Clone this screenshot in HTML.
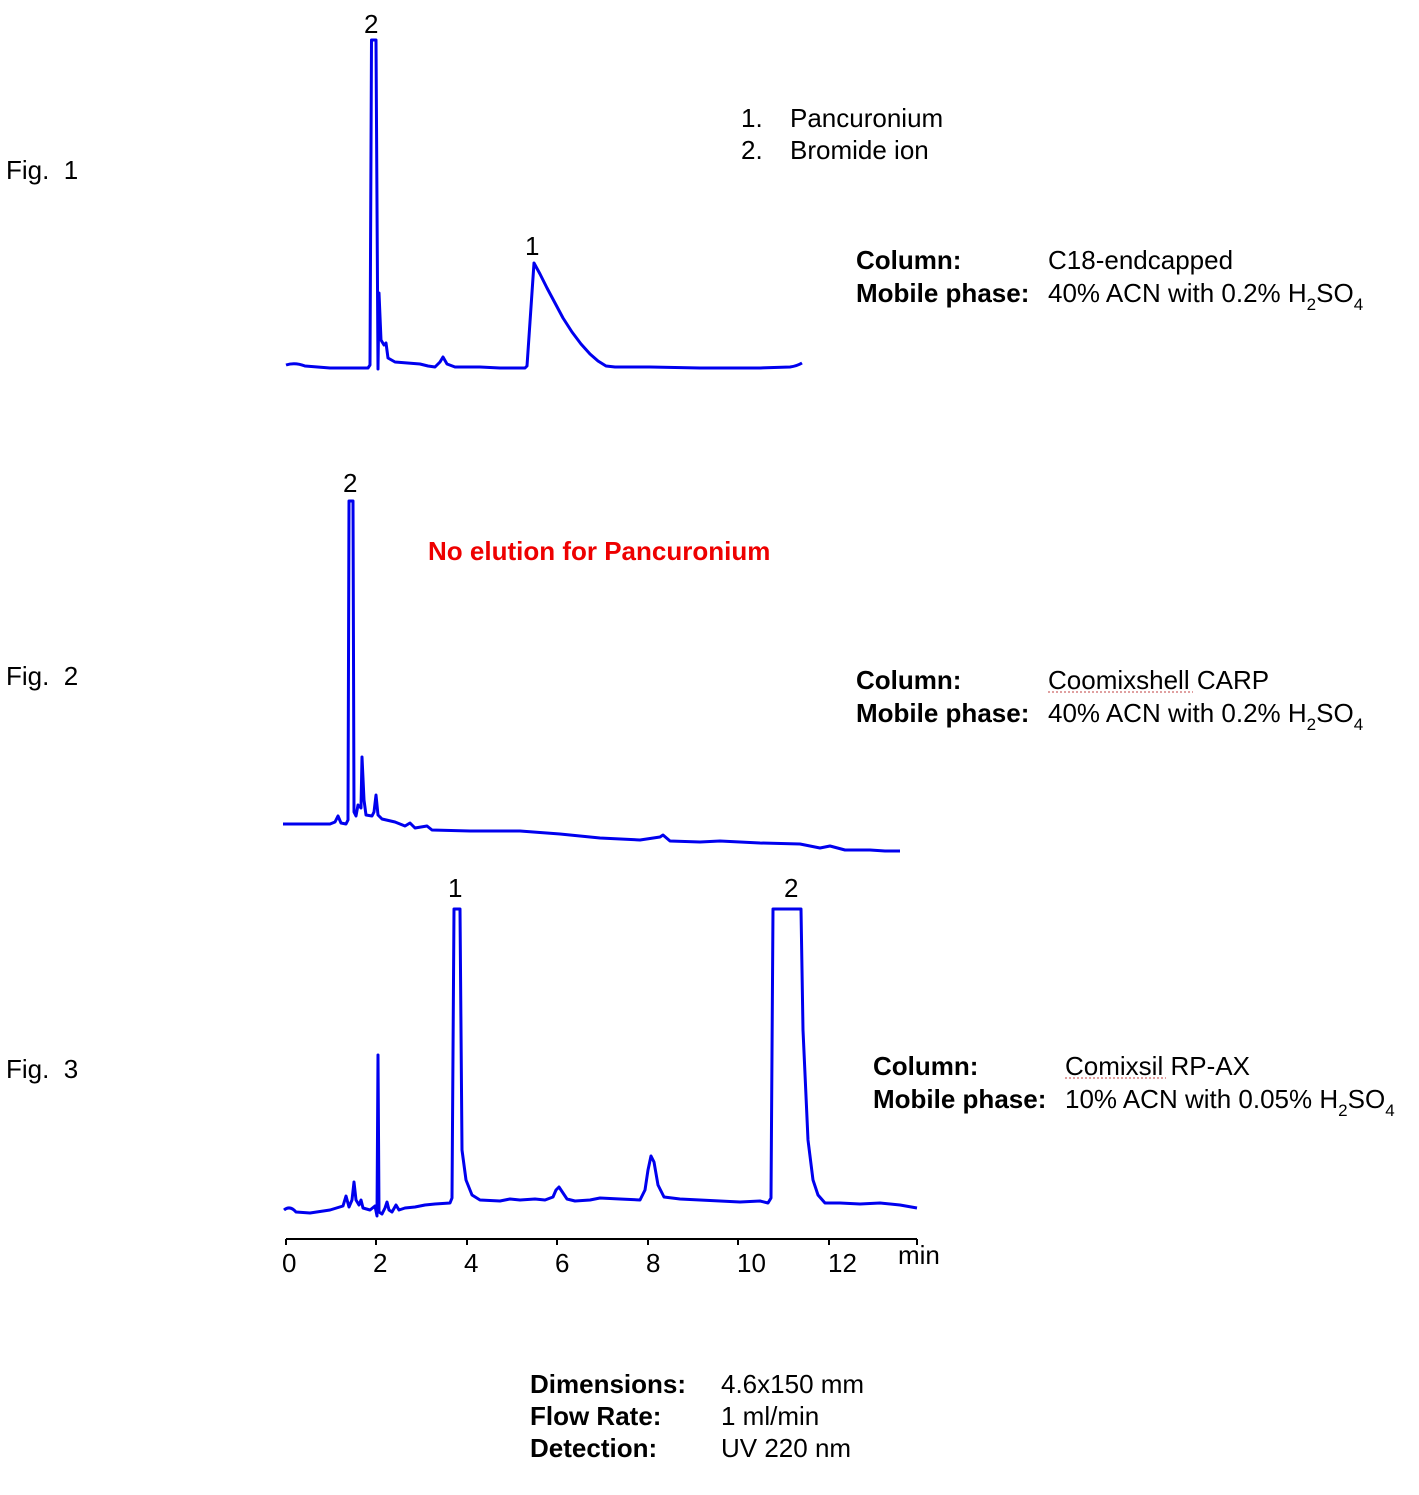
<!DOCTYPE html>
<html><head><meta charset="utf-8"><style>
html,body{margin:0;padding:0;background:#fff;}
svg{display:block;font-family:"Liberation Sans",Arial,sans-serif;}
</style></head><body>
<svg width="1419" height="1495" viewBox="0 0 1419 1495" xmlns="http://www.w3.org/2000/svg">
<g font-size="26" fill="#000">
<text x="6" y="179">Fig.&#160;&#160;1</text>
<text x="6" y="685">Fig.&#160;&#160;2</text>
<text x="6" y="1078">Fig.&#160;&#160;3</text>
<text x="364" y="33">2</text>
<text x="525" y="255">1</text>
<text x="343" y="492">2</text>
<text x="448" y="897">1</text>
<text x="784" y="897">2</text>
<text x="741" y="127">1.</text><text x="790" y="127">Pancuronium</text>
<text x="741" y="159">2.</text><text x="790" y="159">Bromide ion</text>
<text x="856" y="269" font-weight="bold">Column:</text><text x="1048" y="269">C18-endcapped</text>
<text x="856" y="302" font-weight="bold">Mobile phase:</text><text x="1048" y="302">40% ACN with 0.2% H<tspan font-size="17" dy="8">2</tspan><tspan dy="-8">SO</tspan><tspan font-size="17" dy="8">4</tspan></text>
<text x="856" y="689" font-weight="bold">Column:</text><text x="1048" y="689">Coomixshell CARP</text>
<text x="856" y="722" font-weight="bold">Mobile phase:</text><text x="1048" y="722">40% ACN with 0.2% H<tspan font-size="17" dy="8">2</tspan><tspan dy="-8">SO</tspan><tspan font-size="17" dy="8">4</tspan></text>
<text x="873" y="1075" font-weight="bold">Column:</text><text x="1065" y="1075">Comixsil RP-AX</text>
<text x="873" y="1108" font-weight="bold">Mobile phase:</text><text x="1065" y="1108">10% ACN with 0.05% H<tspan font-size="17" dy="8">2</tspan><tspan dy="-8">SO</tspan><tspan font-size="17" dy="8">4</tspan></text>
<text x="428" y="560" font-weight="bold" fill="#ee0000">No elution for Pancuronium</text>
<text x="530" y="1393" font-weight="bold">Dimensions:</text><text x="721" y="1393">4.6x150 mm</text>
<text x="530" y="1425" font-weight="bold">Flow Rate:</text><text x="721" y="1425">1 ml/min</text>
<text x="530" y="1457" font-weight="bold">Detection:</text><text x="721" y="1457">UV 220 nm</text>
<text x="282" y="1272">0</text><text x="373" y="1272">2</text><text x="464" y="1272">4</text><text x="555" y="1272">6</text><text x="646" y="1272">8</text><text x="737" y="1272">10</text><text x="828" y="1272">12</text><text x="898" y="1264">min</text>
</g>
<g stroke="#c04040" stroke-width="1" stroke-dasharray="2,2" fill="none">
<path d="M1048 692 H1193"/><path d="M1065 1078 H1166"/>
</g>
<g fill="none" stroke="#000" stroke-width="2">
<path d="M286 1239 H917"/>
<path d="M286 1239 v6 M376 1239 v6 M467 1239 v6 M557 1239 v6 M648 1239 v6 M738 1239 v6 M829 1239 v6 M917 1239 v6"/>
</g>
<g fill="none" stroke="#0000ee" stroke-width="3" stroke-linejoin="round">
<path d="M286 365 Q295 362 305 366 L330 368 L368 368 L370 365 L371.5 40 L376 40 L378 369 L379 293 L381 340 L384 345 L386 343 L388 358 L395 362 L420 364 L428 366 L435 367 L440 362 L443 357 L447 364 L455 367 L480 367 L500 368 L525 368 L527 366 L534 263 L540 274 L547 288 L555 303 L563 318 L572 332 L581 344 L590 354 L598 361 L606 366 L615 367 L650 367 L700 368 L760 368 L790 367 Q797 366 802 363"/>
<path d="M283 824 L330 824 L335 822 L338 816 L341 823 L346 824 L348 820 L349 501 L353 501 L354 812 L356 816 L358 805 L361 808 L362 757 L364 800 L366 815 L372 816 L374 812 L376 795 L378 815 L382 819 L395 822 L405 826 L410 823 L415 828 L427 826 L432 830 L470 831 L520 831 L560 834 L600 838 L640 840 L660 837 L663 835 L670 841 L700 842 L720 841 L760 843 L800 844 L820 848 L830 846 L845 850 L870 850 L885 851 L900 851"/>
<path d="M284 1210 Q290 1205 296 1212 L310 1213 L330 1210 L343 1206 L346 1196 L349 1207 L352 1200 L354 1182 L356 1200 L359 1205 L361 1200 L363 1208 L370 1210 L375 1206 L377 1216 L378 1055 L379 1212 L382 1214 L385 1208 L387 1202 L389 1210 L392 1212 L396 1205 L399 1210 L405 1208 L415 1207 L425 1205 L435 1204 L450 1203 L452 1198 L454 909 L460 909 L462 1150 L466 1180 L472 1195 L480 1200 L500 1201 L510 1199 L520 1200 L535 1199 L545 1200 L553 1197 L556 1190 L559 1187 L563 1193 L567 1199 L575 1201 L590 1200 L600 1198 L620 1199 L640 1200 L645 1190 L648 1170 L651 1156 L654 1162 L658 1185 L664 1197 L680 1199 L700 1200 L720 1201 L740 1202 L760 1201 L768 1203 L771 1198 L773 909 L801 909 L803 1030 L808 1140 L813 1180 L818 1195 L825 1203 L840 1203 L860 1204 L880 1203 L900 1205 L917 1208"/>
</g>
</svg>
</body></html>
